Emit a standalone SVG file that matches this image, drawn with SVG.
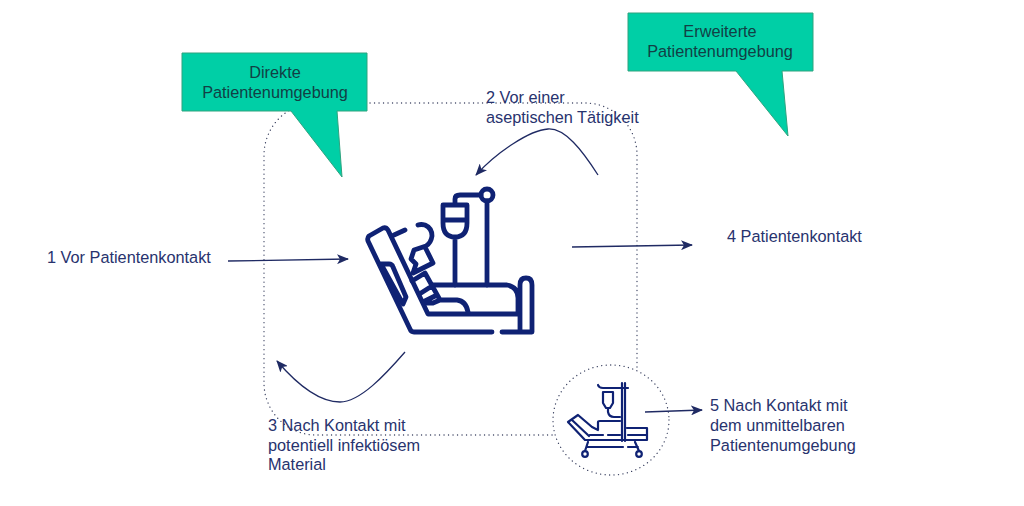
<svg xmlns="http://www.w3.org/2000/svg" width="1024" height="506" viewBox="0 0 1024 506">
<style>
text{font-family:"Liberation Sans",Arial,sans-serif;font-size:16.3px;fill:#28336e}
.c{text-anchor:middle;fill:#123f45}
.call{fill:#00cfa6;stroke:#2fa37f;stroke-width:1}
.dot{stroke:#3a4160;stroke-width:1.3;stroke-dasharray:.1 4.4;stroke-linecap:round}
.arr{fill:none;stroke:#1f2a63;stroke-width:1.3}
.ic{fill:none;stroke:#0f2274;stroke-width:4.8;stroke-linecap:round;stroke-linejoin:round}
.ic2{fill:none;stroke:#0f2274;stroke-width:2.2;stroke-linecap:round;stroke-linejoin:round}
</style>
<defs>
<marker id="ah" markerWidth="12" markerHeight="10" refX="11" refY="5" orient="auto" markerUnits="userSpaceOnUse"><path d="M0 0L12 5L0 10L3 5Z" fill="#1f2a63"/></marker>
</defs>
<rect id="zone" class="dot" fill="none" x="264" y="103" width="373" height="332" rx="52"/>
<g id="connectors">
<path class="arr" marker-end="url(#ah)" d="M228 261L348 259"/>
<path class="arr" marker-end="url(#ah)" d="M572 247L692 245"/>
<path class="arr" marker-end="url(#ah)" d="M598 175C582 150 565 128 548 129C530 130 497 152 476 175"/>
<path class="arr" marker-end="url(#ah)" d="M405 352C385 375 360 402 340 402C318 402 295 382 277 361"/>
</g>
<g id="callout-direkt">
<path class="call" d="M182 53H367V111H337L342 177L291 111H182Z"/>
<text class="c" x="275" y="78">Direkte</text>
<text class="c" x="275" y="98">Patientenumgebung</text>
</g>
<g id="callout-erweitert">
<path class="call" d="M628 13H813V71H782L788 136L736 71H628Z"/>
<text class="c" x="720" y="37">Erweiterte</text>
<text class="c" x="720" y="57">Patientenumgebung</text>
</g>
<g id="label-1"><text x="47" y="263">1 Vor Patientenkontakt</text></g>
<g id="label-2"><text x="486" y="103">2 Vor einer</text><text x="486" y="123">aseptischen Tätigkeit</text></g>
<g id="label-3"><text x="268" y="431">3 Nach Kontakt mit</text><text x="268" y="451">potentiell infektiösem</text><text x="268" y="470">Material</text></g>
<g id="label-4"><text x="727" y="242">4 Patientenkontakt</text></g>
<g id="label-5"><text x="710" y="411">5 Nach Kontakt mit</text><text x="710" y="431">dem unmittelbaren</text><text x="710" y="451">Patientenumgebung</text></g>
<g id="patient-icon">
<path class="ic" d="M369 236L383 228Q386 227 388 230L428 314H518M369 236Q367 238 368 241L410 329Q411 332 414 332H492M502 332H532V285Q532 278 526 278Q520 278 520 285V332M432 285H507Q518 287 518 298V314"/>
<path class="ic" d="M381 264H389Q392 264 393 267L406 297L403 304L381 264"/>
<path class="ic" d="M394 235L405 230M418 225Q421 224 425 225Q432 228 432 236Q431 243 426 246L414 250L411 259L416 264L413 273L433 263L426 249M412 281L425 273L440 300M421 293L432 286M423 302L437 295M426 303L433 303L440 300H457Q466 301 468 312"/>
<path class="ic" d="M455 285V237M443 205H467V223Q467 237 455 237Q443 237 443 223ZM443 220H467M455 205V199Q455 195 460 195H481M487 201V285"/>
<circle class="ic" cx="487" cy="195" r="6"/>
</g>
<g id="bed-node">
<ellipse class="dot" fill="#fff" cx="611" cy="420" rx="58" ry="55"/>
<path class="ic2" d="M568 422L578 415L592 427L598 430M568 422L585 440H647V428H627M572 420L589 436M598 430V422Q598 421 600 421H620M590 435H603M608 435H620M628 435H646M622 383V441M625 383V441"/>
<path class="ic2" d="M598 385Q599 388 603 388H628M603 392H613V403L610 408H606L603 403ZM608 408V412Q609 417 614 417H620M587 447H623M628 447H638M588 442L585 451M635 442L639 451"/>
<circle class="ic2" cx="585" cy="454" r="2.8"/><circle class="ic2" cx="639" cy="454" r="2.8"/>
</g>
<g id="connector-5"><path class="arr" marker-end="url(#ah)" d="M645 412L702 410"/></g>
</svg>
